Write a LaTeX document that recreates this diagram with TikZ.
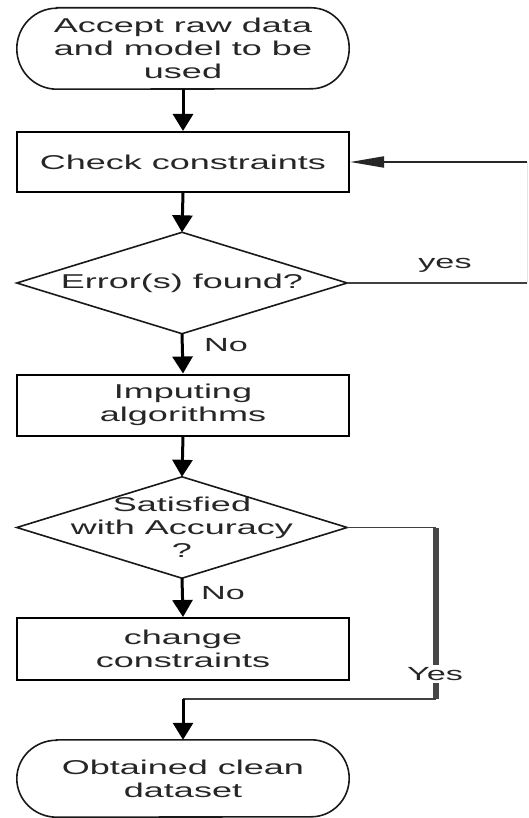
\documentclass[tikz,border=0pt]{standalone}
\usepackage{fontspec}
\setmainfont{Liberation Sans}[FakeStretch=1.8]
\usetikzlibrary{arrows.meta}
\begin{document}
\begin{tikzpicture}[x=1pt,y=-1pt,
  txt/.style={font=\fontsize{20}{23}\selectfont, align=center, text=black!85},
  box/.style={txt, draw, line width=2pt, minimum width=332pt, inner sep=0pt},
  frame/.style={txt, minimum width=332pt, inner sep=0pt},
  dia/.style={txt, minimum width=330pt, minimum height=101pt, inner sep=0pt},
  outline/.style={line width=1.6pt, draw=black!90},
  flow/.style={line width=3pt, -{Triangle[width=20pt,length=17pt]}},
  back/.style={line width=2pt, black!85, -{Triangle[width=11pt,length=34pt]}},
  thinline/.style={line width=1.6pt, black!75},
  faint/.style={line width=1pt, black!10},
  thickgray/.style={line width=6pt, black!72},
  lbl/.style={font=\fontsize{19}{22}\selectfont, text=black!85, inner sep=1pt}
]
\path[use as bounding box] (0,0) rectangle (528,818);

% nodes
\node[frame, minimum height=81pt] (start) at (183,48.5) {Accept raw data\\and model to be\\used};
\node[box, minimum height=60pt] (check) at (183,162) {Check constraints};
\node[dia] (d1) at (182,283) {Error(s) found?};
\node[box, minimum height=61pt] (imp) at (183,405) {Imputing\\algorithms};
\node[dia] (d2) at (182,527.5) {Satisfied\\with Accuracy\\?};
\node[box, minimum height=62pt] (chg) at (183,649) {change\\constraints};
\node[frame, minimum height=77pt] (end) at (183,778.5) {Obtained clean\\dataset};

% terminal outlines
\draw[outline] ([xshift=40pt]start.north west) -- ([xshift=-38pt]start.north east)
  arc[start angle=90, end angle=-90, x radius=38pt, y radius=40.5pt]
  -- ([xshift=40pt]start.south west)
  arc[start angle=270, end angle=90, x radius=40pt, y radius=40.5pt] -- cycle;
\draw[outline] ([xshift=40pt]end.north west) -- ([xshift=-38pt]end.north east)
  arc[start angle=90, end angle=-90, x radius=38pt, y radius=38.5pt]
  -- ([xshift=40pt]end.south west)
  arc[start angle=270, end angle=90, x radius=40pt, y radius=38.5pt] -- cycle;

% diamonds
\draw[outline] (d1.north) -- (d1.east) -- (d1.south) -- (d1.west) -- cycle;
\draw[outline] (d2.north) -- (d2.east) -- (d2.south) -- (d2.west) -- cycle;

% labels
\node[lbl] (yes1) at (445,265) {yes};
\node[lbl] (no1) at (226,345) {No};
\node[lbl] (no2) at (223,593) {No};
\node[lbl, inner sep=2pt] (yes2) at (435,674) {Yes};

% coordinates
\coordinate (r1) at (527,283);
\coordinate (r2) at (527,162);
\coordinate (c1) at (436,527.5);
\coordinate (c2) at (436,699);
\coordinate (c3) at (183,699);

% main flow
\draw[flow] (start.south) -- (check.north);
\draw[flow] (check.south) -- (d1.north);
\draw[flow] (d1.south) -- (imp.north);
\draw[flow] (imp.south) -- (d2.north);
\draw[flow] (d2.south) -- (chg.north);

% feedback loop
\draw[thinline] (d1.east) -- (r1);
\draw[faint] (r1) -- (r2);
\draw[back] (r2) -- (check.east);

% yes branch
\draw[thinline] (d2.east) -- (c1);
\draw[thickgray] (c1) -- (yes2.north -| c1);
\draw[thickgray] (yes2.south -| c1) -- (c2);
\draw[thinline] (c2) -- (c3);
\draw[flow] (c3) -- (end.north);
\end{tikzpicture}
\end{document}
